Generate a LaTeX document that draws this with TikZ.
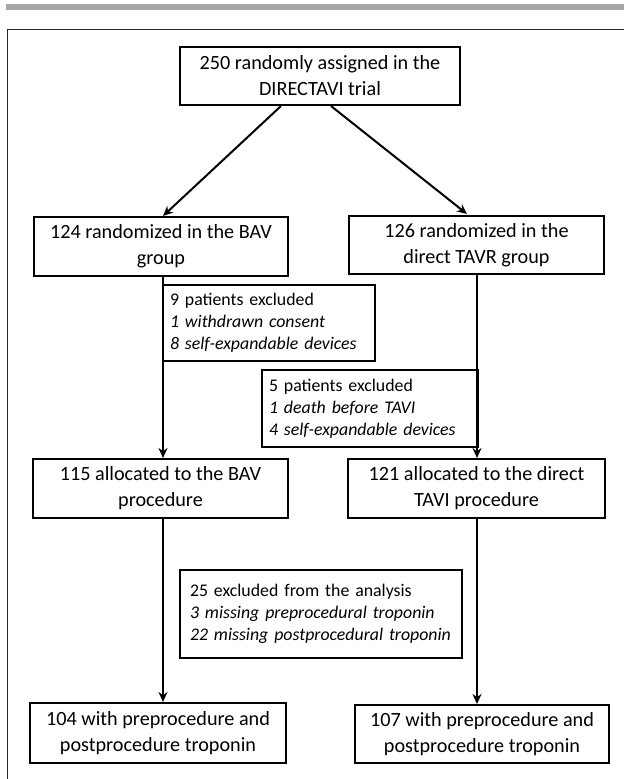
\documentclass[tikz,border=0pt]{standalone}
\usepackage{fontspec}
\setmainfont{Carlito}
\usetikzlibrary{arrows.meta,calc}
\begin{document}
\begin{tikzpicture}[x=1pt,y=-1pt,
  box/.style={draw=black,line width=2pt,align=center,inner sep=0pt,font=\fontsize{20.2}{26}\selectfont},
  exbox/.style={draw=black,line width=2pt,align=left,inner ysep=0pt,font=\fontsize{17.8}{22}\selectfont},
  arr/.style={line width=2pt,-{Stealth[length=10pt,width=9pt]}}]
\useasboundingbox (0,0) rectangle (624,779);
\fill[black!35] (6,4) rectangle (624,9.5);
\draw[line width=1pt,black!85] (7,779) -- (7,29) -- (624,29);

\coordinate (cL) at (163,0);
\coordinate (cR) at (477,0);

\node[box,minimum width=280pt,minimum height=58pt] (top) at (320,76) {250 randomly assigned in the\\DIRECTAVI trial};
\node[box,minimum width=254pt,minimum height=59pt] (bav) at (161,246.5) {124 randomized in the BAV\\group};
\node[box,minimum width=255pt,minimum height=58pt] (tavr) at (476.5,245) {126 randomized in the\\direct TAVR group};
\node[exbox,inner xsep=7pt,text width=198pt,minimum height=76pt] (ex1) at (269,323) {9 patients excluded\\\textit{1 withdrawn consent}\\\textit{8 self-expandable devices}};
\node[exbox,inner xsep=7pt,text width=202pt,minimum height=77pt] (ex2) at (370,408.5) {5 patients excluded\\\textit{1 death before TAVI}\\\textit{4 self-expandable devices}};
\node[box,minimum width=255pt,minimum height=59pt] (al1) at (160.5,488.5) {115 allocated to the BAV\\procedure};
\node[box,minimum width=257pt,minimum height=59pt] (al2) at (476.5,488.5) {121 allocated to the direct\\TAVI procedure};
\node[exbox,inner xsep=10pt,text width=262pt,minimum height=88pt] (ex3) at (321,614) {25 excluded from the analysis\\\textit{3 missing preprocedural troponin}\\\textit{22 missing postprocedural troponin}};
\node[box,minimum width=256pt,minimum height=60pt] (fin1) at (158,733) {104 with preprocedure and\\postprocedure troponin};
\node[box,minimum width=254pt,minimum height=58pt] (fin2) at (482,734) {107 with preprocedure and\\postprocedure troponin};

\draw[arr] ($(top.south west)+(102,0)$) -- (bav.north -| cL);
\draw[arr] ($(top.south west)+(152,0)$) -- ($(tavr.north west)+(119,-1)$);
\draw[arr] (bav.south -| cL) -- (al1.north -| cL);
\draw[arr] (tavr.south -| cR) -- (al2.north -| cR);
\draw[arr] (al1.south -| cL) -- (fin1.north -| cL);
\draw[arr] (al2.south -| cR) -- (fin2.north -| cR);
\end{tikzpicture}
\end{document}
